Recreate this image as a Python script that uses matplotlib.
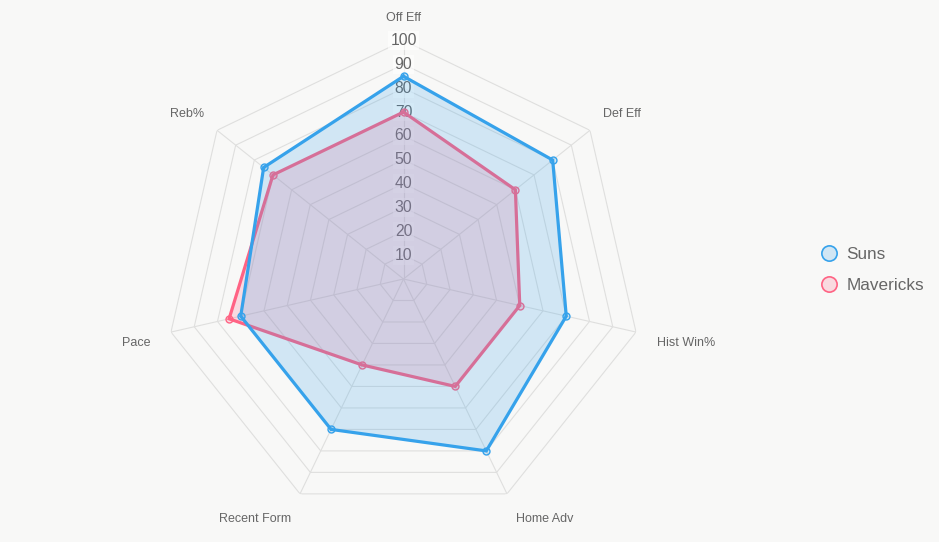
import numpy as np
import matplotlib.pyplot as plt
from matplotlib.lines import Line2D

plt.rcParams['font.family'] = ['Liberation Sans', 'DejaVu Sans']

# datos del grafico
categorias = ['Off Eff', 'Def Eff', 'Hist Win%', 'Home Adv', 'Recent Form', 'Pace', 'Reb%']
suns = [85, 80, 70, 80, 70, 70, 75]
mavericks = [70, 60, 50, 50, 40, 75, 70]
niveles = [10, 20, 30, 40, 50, 60, 70, 80, 90, 100]

fondo = '#f8f8f7'
azul = '#36a2eb'
rosa = '#ff6384'
gris = '#666666'

N = len(categorias)
ang = np.arange(N) * 2 * np.pi / N
ang_c = np.append(ang, ang[0])

fig = plt.figure(figsize=(9.39, 5.42), dpi=100, facecolor=fondo)
ax = fig.add_axes([165 / 939, 24.5 / 542, 477 / 939, 477 / 542], projection='polar')
ax.set_facecolor('none')
ax.set_theta_zero_location('N')
ax.set_theta_direction(-1)
ax.set_ylim(0, 100)
ax.grid(False)
ax.spines['polar'].set_visible(False)
ax.set_xticks([])
ax.set_yticks([])

# rejilla poligonal y radios
for n in niveles:
    ax.plot(ang_c, [n] * (N + 1), color='#dfdfde', lw=0.8, zorder=1)
for a in ang:
    ax.plot([a, a], [0, 100], color='#dfdfde', lw=0.8, zorder=1)

# etiquetas de la escala (debajo de las series)
for n in niveles:
    ax.text(0, n, str(n), ha='center', va='center', fontsize=11.3, color=gris, zorder=1.5,
            bbox=dict(boxstyle='square,pad=0.12', fc='white', ec='none', alpha=0.6))

# series (Mavericks debajo, Suns encima)
for vals, col, z in [(mavericks, rosa, 2), (suns, azul, 4)]:
    v = np.append(vals, vals[0])
    ax.fill(ang_c, v, color=col, alpha=0.2, lw=0, zorder=z)
    ax.plot(ang_c, v, color=col, lw=2.3, zorder=z + 0.5, solid_joinstyle='miter')
    ax.plot(ang, vals, 'o', ms=5, mfc=col + '33', mec=col, mew=1, zorder=z + 0.6)

# etiquetas de los ejes
for a, c in zip(ang, categorias):
    s, co = np.sin(a), np.cos(a)
    ha = 'left' if s > 0.05 else ('right' if s < -0.05 else 'center')
    if co > 0:
        ax.text(a, 107, c, ha=ha, va='bottom', fontsize=9, color=gris, clip_on=False)
    else:
        ax.text(a, 109, c, ha=ha, va='top', fontsize=9, color=gris, clip_on=False)

# leyenda
handles = [Line2D([], [], ls='none', marker='o', ms=11, mfc=azul + '33', mec=azul, mew=1.2),
           Line2D([], [], ls='none', marker='o', ms=11, mfc=rosa + '33', mec=rosa, mew=1.2)]
fig.legend(handles, ['Suns', 'Mavericks'], loc='center left', bbox_to_anchor=(812 / 939, 1 - 270 / 542),
           frameon=False, fontsize=12.3, labelcolor=gris, handlelength=1.0, handletextpad=0.5,
           labelspacing=0.95, borderpad=0)

plt.savefig('out.png', dpi=100, facecolor=fondo)
